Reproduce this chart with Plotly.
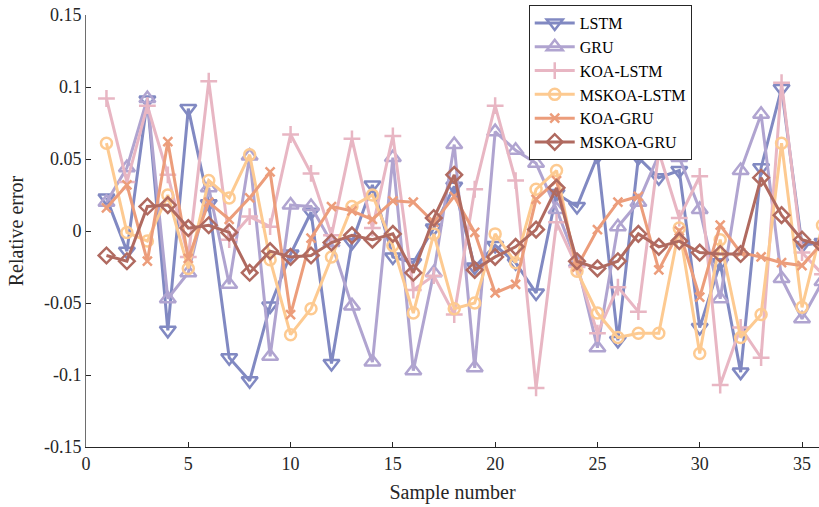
import plotly.graph_objects as go

# sample index
samples = list(range(1, 37))

# relative error per model
lstm = [0.023, -0.014, 0.091, -0.069, 0.085, 0.019, -0.088, -0.104, -0.052, -0.016,
        0.013, -0.092, -0.008, 0.032, -0.018, -0.022, 0.002, 0.031, -0.025, -0.010,
        -0.022, -0.043, 0.026, 0.017, 0.052, -0.076, 0.051, 0.037, 0.042, -0.067,
        -0.022, -0.098, 0.044, 0.099, -0.010, -0.008]
gru = [0.020, 0.044, 0.092, -0.047, -0.029, 0.030, -0.037, 0.052, -0.087, 0.018,
       0.017, -0.008, -0.052, -0.091, 0.051, -0.097, -0.029, 0.060, -0.095, 0.069,
       0.056, 0.047, 0.015, -0.022, -0.081, 0.003, 0.020, 0.053, 0.051, 0.015,
       -0.047, 0.042, 0.081, -0.033, -0.061, -0.035]
koa_lstm = [0.092, 0.034, 0.087, 0.039, -0.018, 0.104, -0.006, 0.010, 0.003, 0.067,
            0.040, -0.003, 0.064, 0.002, 0.066, -0.041, -0.031, -0.058, 0.029, 0.087,
            0.035, -0.109, 0.006, -0.025, -0.071, -0.039, -0.056, 0.055, 0.009, 0.038,
            -0.107, -0.067, -0.088, 0.103, -0.015, -0.030]
mskoa_lstm = [0.061, -0.001, -0.007, 0.025, -0.026, 0.035, 0.023, 0.053, -0.020, -0.072,
              -0.054, -0.018, 0.017, 0.025, -0.010, -0.057, -0.002, -0.054, -0.050, -0.002,
              -0.022, 0.029, 0.042, -0.028, -0.057, -0.074, -0.071, -0.071, 0.002, -0.085,
              -0.006, -0.074, -0.058, 0.061, -0.053, 0.004]
koa_gru = [0.016, 0.032, -0.021, 0.062, -0.019, 0.020, 0.008, 0.023, 0.041, -0.058,
           -0.005, 0.017, 0.014, 0.008, 0.021, 0.020, 0.006, 0.024, -0.001, -0.043,
           -0.037, 0.022, 0.035, -0.025, 0.001, 0.020, 0.024, -0.027, 0.000, -0.046,
           0.004, -0.015, -0.018, -0.022, -0.024, -0.008]
mskoa_gru = [-0.017, -0.021, 0.017, 0.018, 0.002, 0.004, -0.001, -0.029, -0.014, -0.018,
             -0.017, -0.008, -0.003, -0.006, -0.002, -0.029, 0.009, 0.039, -0.027, -0.018,
             -0.011, 0.001, 0.030, -0.021, -0.026, -0.021, -0.002, -0.011, -0.007, -0.015,
             -0.016, -0.016, 0.037, 0.011, -0.006, -0.010]

names = ['LSTM', 'GRU', 'KOA-LSTM', 'MSKOA-LSTM', 'KOA-GRU', 'MSKOA-GRU']
series = [lstm, gru, koa_lstm, mskoa_lstm, koa_gru, mskoa_gru]
colors = ['#8189c2', '#b0a4d0', '#e8b6c3', '#fdca91', '#ec9d7b', '#b06a60']
symbols = ['triangle-down-open', 'triangle-up-open', 'cross-thin-open',
           'circle-open', 'x-thin-open', 'diamond-open']
sizes = [14, 14, 12, 11, 9, 12]

fig = go.Figure()
for name, ys, col, sym, sz in zip(names, series, colors, symbols, sizes):
  fig.add_trace(go.Scatter(
    x=samples, y=ys,
    mode='lines+markers',
    name=name,
    line=dict(color=col, width=3),
    marker=dict(symbol=sym, size=sz, color=col, line=dict(color=col, width=2.5)),
  ))

font_family = 'Liberation Serif'
fig.update_layout(
  width=819, height=507,
  margin=dict(l=86, r=0, t=15, b=60, autoexpand=False),
  paper_bgcolor='white', plot_bgcolor='white',
  font=dict(family=font_family, size=18, color='#262626'),
  legend=dict(
    x=0.604, y=1.023, xanchor='left', yanchor='top',
    bgcolor='white', bordercolor='#262626', borderwidth=1,
    font=dict(size=16, color='#000000'),
    tracegroupgap=0, itemwidth=40,
  ),
)
fig.update_xaxes(
  range=[0, 35.83], tickvals=[0, 5, 10, 15, 20, 25, 30, 35],
  ticks='inside', ticklen=5, tickcolor='#262626',
  showline=True, linecolor='#262626', linewidth=1,
  showgrid=False, zeroline=False, automargin=False,
  title=dict(text='Sample number', font=dict(size=20), standoff=12),
)
fig.update_yaxes(
  range=[-0.15, 0.15], tickvals=[-0.15, -0.1, -0.05, 0, 0.05, 0.1, 0.15],
  ticktext=['-0.15', '-0.1', '-0.05', '0', '0.05', '0.1', '0.15'],
  ticks='inside', ticklen=5, tickcolor='#262626',
  showline=True, linecolor='#6e6e6e', linewidth=1,
  showgrid=False, zeroline=False, automargin=False,
  title=dict(text='Relative error', font=dict(size=20), standoff=14),
)

# drop the default 8px page margin so the figure sits at the window corner
fig.write_html('out.html', config={'displayModeBar': False},
               post_script="document.body.style.margin='0';")
